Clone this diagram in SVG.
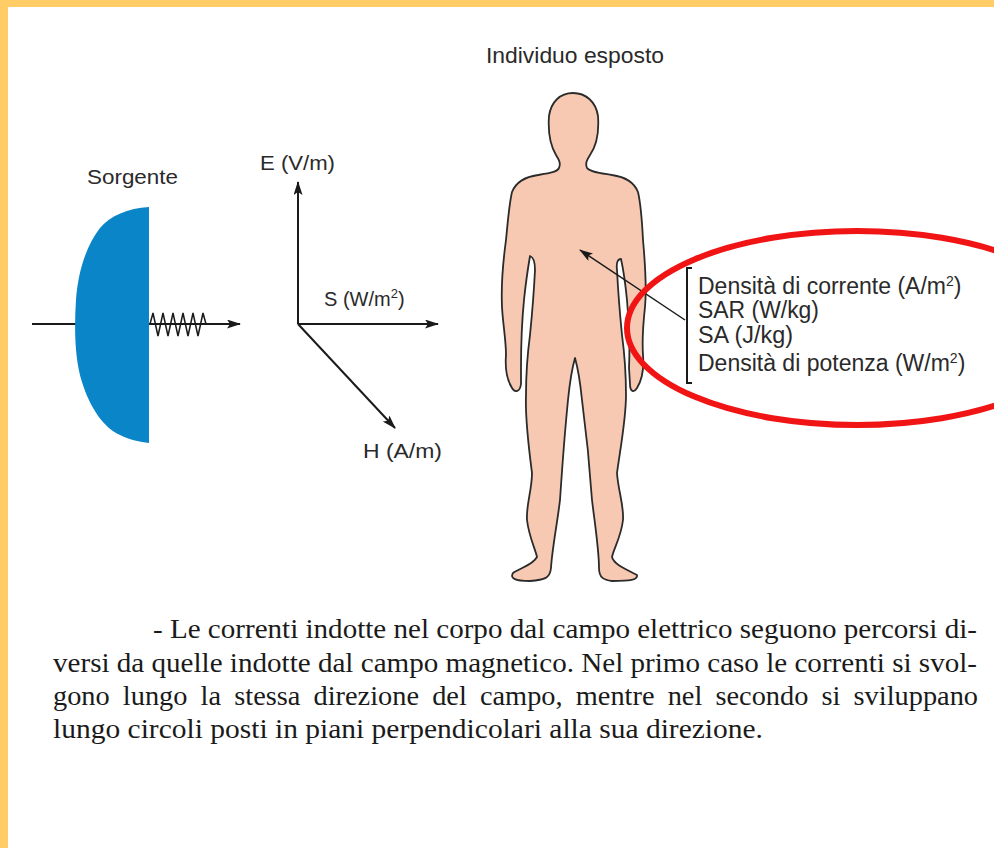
<svg xmlns="http://www.w3.org/2000/svg" width="994" height="848" viewBox="0 0 994 848">
  <style>
    .lbl { font-family: "Liberation Sans", Arial, sans-serif; fill: #2a2a2a; }
    .para { font-family: "Liberation Serif", "Times New Roman", serif; font-size: 28px; fill: #1a1a1a; }
    .ln { stroke: #1a1a1a; stroke-width: 2; fill: none; }
    .skin { fill: #f7c9b2; stroke: #2b2b2b; stroke-width: 1.8; stroke-linejoin: round; }
  </style>
  <defs>
    <marker id="head" markerUnits="userSpaceOnUse" markerWidth="14" markerHeight="9" viewBox="0 0 14 9" refX="13" refY="4.5" orient="auto">
      <path d="M0,0 L14,4.5 L0,9 L3,4.5 z" fill="#1a1a1a"/>
    </marker>
  </defs>

  <!-- page frame -->
  <rect width="994" height="848" fill="#ffffff"/>
  <rect x="0" y="0" width="994" height="7" fill="#ffcc66"/>
  <rect x="0" y="0" width="8" height="848" fill="#ffcc66"/>

  <!-- source with emitted wave -->
  <g id="sorgente">
    <text class="lbl" x="87" y="184" font-size="21" textLength="91" lengthAdjust="spacingAndGlyphs">Sorgente</text>
    <line x1="32" y1="324" x2="240" y2="324" stroke="#1a1a1a" stroke-width="1.8" marker-end="url(#head)"/>
    <path d="M149,207 C128,208 110,216 100,228 C86,246 78,272 76,300 C74,330 75,360 82,382 C90,408 104,428 120,435 C130,440 140,442 149,443 Z" fill="#0a86c8"/>
    <path d="M150,324 L153,313 L158,336 L163,313 L168,336 L173,313 L178,336 L183,313 L188,336 L193,313 L198,336 L203,313 L206,324" fill="none" stroke="#1a1a1a" stroke-width="1.5" stroke-linejoin="miter"/>
  </g>

  <!-- field vectors -->
  <g id="campi">
    <line class="ln" x1="298" y1="324" x2="298" y2="182" marker-end="url(#head)"/>
    <line class="ln" x1="298" y1="324" x2="438" y2="324" marker-end="url(#head)"/>
    <line class="ln" x1="298" y1="324" x2="395" y2="428" marker-end="url(#head)"/>
    <text class="lbl" x="260" y="170" font-size="20" textLength="75" lengthAdjust="spacingAndGlyphs">E (V/m)</text>
    <text class="lbl" x="324" y="306" font-size="20">S (W/m<tspan font-size="13" dy="-8">2</tspan><tspan dy="8">)</tspan></text>
    <text class="lbl" x="363" y="458" font-size="20" textLength="79" lengthAdjust="spacingAndGlyphs">H (A/m)</text>
  </g>

  <!-- exposed person -->
  <g id="individuo">
    <text class="lbl" x="486" y="63" font-size="21.5" textLength="178" lengthAdjust="spacingAndGlyphs">Individuo esposto</text>
    <path class="skin" d="M573,93 C586,93 596,102 598,116 C599,130 597,145 590,155 C587,160 585,163 587,168 C590,172 600,173 612,175 C626,177 634,182 638,192 C641,205 642,220 643,240 C645,262 647,285 645,307 C643,325 642,340 643,355 C644,368 642,380 637,388 C634,393 630,392 630,384 L629,368 C630,345 629,320 627,300 C625,280 623,268 621,259 C618,259 616,262 617,270 C618,290 620,315 622,335 C624,350 626,370 626,395 C626,420 620,450 617,473 C618,490 624,505 623,520 C621,537 614,548 612,557 C614,565 628,570 637,575 C638,580 630,581 612,581 C604,580 599,578 599,568 C599,550 595,525 592,500 C590,470 586,430 582,400 C580,380 577,365 575,358 C573,365 570,380 568,400 C565,430 562,470 560,500 C557,525 552,550 551,568 C550,578 545,580 530,581 C514,581 510,578 513,573 C520,568 533,565 537,557 C535,548 529,537 527,520 C526,505 532,490 532,473 C529,450 525,420 526,395 C526,370 528,350 530,335 C532,315 534,290 535,270 C535,262 533,257 530,256 C528,268 526,280 524,300 C522,320 521,345 521,368 L521,384 C520,392 515,393 512,388 C507,380 505,368 506,355 C506,340 503,325 502,307 C501,285 503,262 506,240 C508,220 509,205 512,192 C516,182 524,177 538,175 C550,173 557,172 559,168 C561,163 559,160 556,155 C550,145 548,130 549,116 C551,102 560,93 573,93 Z"/>
  </g>

  <!-- quantities measured in the body -->
  <g id="grandezze">
    <line x1="685" y1="320" x2="580" y2="250" stroke="#1a1a1a" stroke-width="1.5" marker-end="url(#head)"/>
    <path d="M692,268 H687 V383 H692" fill="none" stroke="#1a1a1a" stroke-width="2"/>
    <text class="lbl" x="698" y="294" font-size="23">Densità di corrente (A/m<tspan font-size="14" dy="-8">2</tspan><tspan dy="8">)</tspan></text>
    <text class="lbl" x="698" y="318" font-size="23" textLength="121" lengthAdjust="spacingAndGlyphs">SAR (W/kg)</text>
    <text class="lbl" x="698" y="343" font-size="23" textLength="95" lengthAdjust="spacingAndGlyphs">SA (J/kg)</text>
    <text class="lbl" x="698" y="371" font-size="23">Densità di potenza (W/m<tspan font-size="14" dy="-8">2</tspan><tspan dy="8">)</tspan></text>
    <ellipse cx="857" cy="328" rx="230" ry="97" fill="none" stroke="#f01414" stroke-width="6"/>
  </g>

  <!-- explanatory paragraph -->
  <g id="testo">
    <text class="para" x="153" y="638" textLength="824" lengthAdjust="spacingAndGlyphs">- Le correnti indotte nel corpo dal campo elettrico seguono percorsi di-</text>
    <text class="para" x="53" y="672" textLength="924" lengthAdjust="spacingAndGlyphs">versi da quelle indotte dal campo magnetico. Nel primo caso le correnti si svol-</text>
    <text class="para" x="53" y="705" word-spacing="6" textLength="925" lengthAdjust="spacingAndGlyphs">gono lungo la stessa direzione del campo, mentre nel secondo si sviluppano</text>
    <text class="para" x="53" y="738" textLength="710" lengthAdjust="spacingAndGlyphs">lungo circoli posti in piani perpendicolari alla sua direzione.</text>
  </g>
</svg>
